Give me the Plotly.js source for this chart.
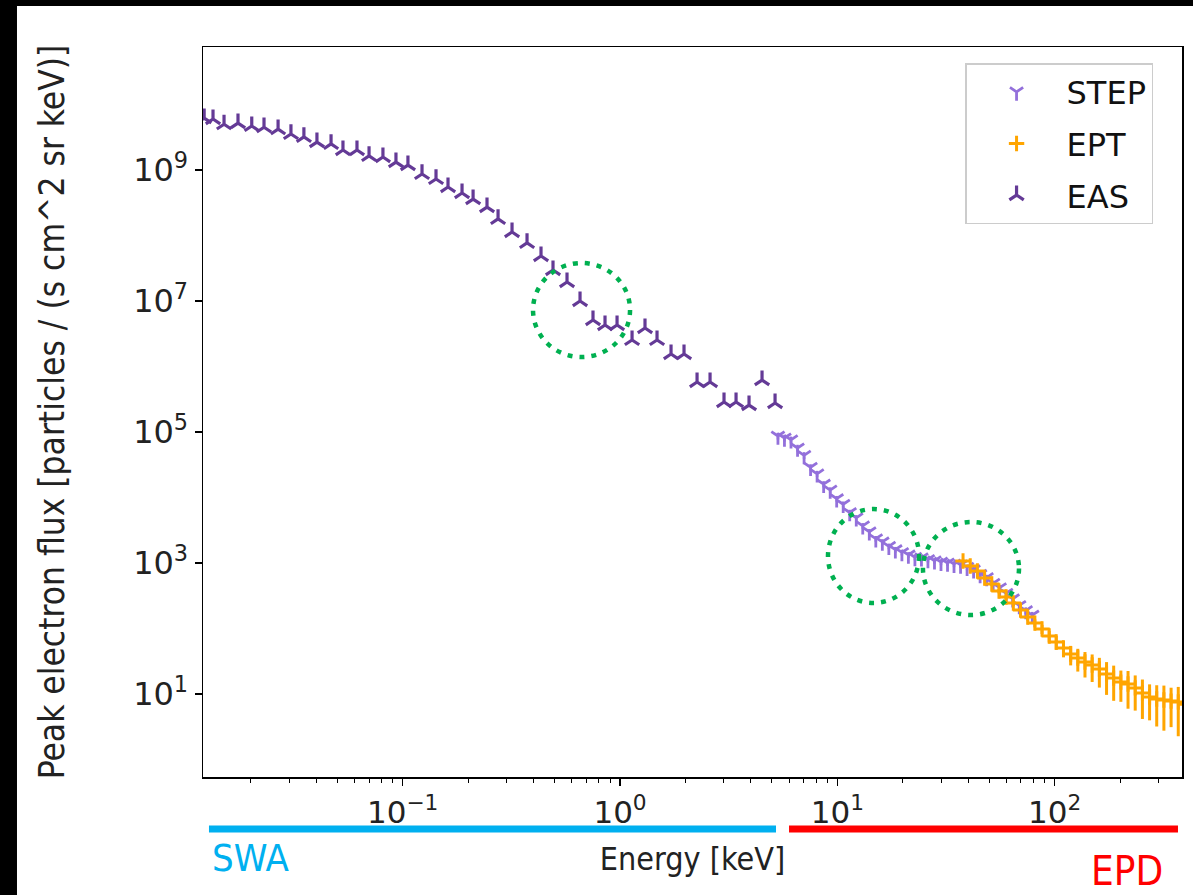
<!DOCTYPE html>
<html>
<head>
<meta charset="utf-8">
<script src="https://cdn.plot.ly/plotly-3.0.1.min.js"></script>
<style>
  html, body { margin: 0; padding: 0; background: #ffffff; }
  #chart { width: 1193px; height: 895px; }
</style>
</head>
<body>
<div id="chart"></div>
<script>
// ---- Data ----
// EAS (SWA) : energy [keV] and peak flux
const easEnergy = [0.0122,0.0134,0.01506,0.01746,0.0202,0.0230,0.0267,0.0306,0.0351,0.0403,0.0468,0.0531,0.0616,0.070,0.0811,0.0931,0.1057,0.1227,0.1423,0.1616,0.1875,0.2108,0.2443,0.2746,0.3185,0.3733,0.4329,0.4916,0.5703,0.6546,0.751,0.853,0.969,1.136,1.303,1.480,1.717,1.970,2.262,2.596,3.010,3.419,3.923,4.503,5.169];
const easFlux = [6.2e9,6.0e9,5.0e9,5.2e9,4.7e9,4.5e9,4.2e9,3.55e9,3.2e9,2.67e9,2.5e9,2.02e9,2.02e9,1.64e9,1.58e9,1.32e9,1.19e9,8.7e8,7.3e8,5.5e8,4.45e8,3.6e8,2.72e8,1.79e8,1.13e8,7.7e7,4.86e7,2.97e7,1.95e7,1.0e7,5.13e6,4.3e6,4.3e6,2.54e6,3.87e6,2.54e6,1.55e6,1.55e6,5.8e5,5.8e5,2.87e5,2.87e5,2.58e5,6.2e5,2.77e5];

// STEP (EPD)
const stepEnergy = [5.33,5.71,6.12,6.56,7.03,7.53,8.07,8.65,9.27,9.93,10.64,11.40,12.22,13.09,14.03,15.03,16.11,17.26,18.49,19.82,21.23,22.75,24.38,26.12,27.99,29.99,32.14,34.43,36.90,39.54,42.36,45.39,48.64,52.12,55.85,59.84,64.12,68.71,73.62,78.89];
const stepFlux = [8.7e4,8.1e4,7.6e4,5.7e4,4.4e4,2.9e4,2.3e4,1.6e4,1.3e4,9.6e3,7.9e3,5.9e3,4.9e3,3.7e3,3.0e3,2.35e3,2.1e3,1.8e3,1.6e3,1.45e3,1.33e3,1.22e3,1.2e3,1.13e3,1.08e3,1.03e3,1.0e3,960,935,860,790,670,600,490,420,345,285,225,188,160];
const stepRelErr = [0.12,0.12,0.12,0.12,0.12,0.11,0.11,0.11,0.1,0.1,0.1,0.1,0.1,0.1,0.1,0.1,0.1,0.1,0.1,0.1,0.1,0.1,0.1,0.1,0.1,0.1,0.1,0.1,0.1,0.1,0.1,0.1,0.1,0.1,0.1,0.1,0.1,0.11,0.12,0.12];

// EPT (EPD)
const eptEnergy = [37.88,40.89,44.12,47.61,51.37,55.43,59.81,64.54,69.64,75.14,81.08,87.49,94.39,101.7,109.8,118.5,127.8,137.9,148.8,160.6,173.3,186.9,201.7,217.6,234.8,253.4,273.4,294.9,318.2,343.4,370.5,399.7];
const eptFlux = [1074,900,755,590,478,374,303,245,191,150,121,98.2,76.7,62.2,50.4,40.8,35.5,30.8,27.7,24.1,20.2,17.5,15.2,14.2,12.4,10.4,9.0,8.4,8.1,7.8,7.55,7.0];
const eptRelErr = [0.05,0.05,0.06,0.06,0.07,0.08,0.09,0.10,0.11,0.12,0.14,0.16,0.20,0.24,0.28,0.33,0.38,0.42,0.45,0.48,0.52,0.55,0.50,0.58,0.55,0.60,0.56,0.62,0.66,0.60,0.70,0.72];

// Axis ticks
const xTickVals = [0.1, 1, 10, 100];
const xTickText = ['10<sup>−1</sup>', '10<sup>0</sup>', '10<sup>1</sup>', '10<sup>2</sup>'];
const yTickVals = [1e1, 1e3, 1e5, 1e7, 1e9];
const yTickText = ['10<sup>1</sup>', '10<sup>3</sup>', '10<sup>5</sup>', '10<sup>7</sup>', '10<sup>9</sup>'];

// minor x ticks (2..9 within each decade)
const xMinor = [];
for (let d = -2; d <= 2; d++) {
  for (let m = 2; m <= 9; m++) xMinor.push(m * Math.pow(10, d));
}

const cStep = '#9370DB';
const cEpt = '#FFA500';
const cEas = '#643A96';

const traces = [
  {
    name: 'STEP', x: stepEnergy, y: stepFlux, type: 'scatter', mode: 'markers',
    legendgroup: 'a',
    marker: { symbol: 'y-down', size: 11, color: cStep, line: { color: cStep, width: 2.8 } },
    error_y: { type: 'data', array: stepFlux.map((v, i) => v * stepRelErr[i]), color: cStep, thickness: 2.5, width: 0 }
  },
  {
    name: 'EPT', x: eptEnergy, y: eptFlux, type: 'scatter', mode: 'markers',
    legendgroup: 'b',
    marker: { symbol: 'cross-thin', size: 11, color: cEpt, line: { color: cEpt, width: 3 } },
    error_y: { type: 'data', array: eptFlux.map((v, i) => v * eptRelErr[i]), color: cEpt, thickness: 3, width: 0 }
  },
  {
    name: 'EAS', x: easEnergy, y: easFlux, type: 'scatter', mode: 'markers',
    legendgroup: 'c',
    marker: { symbol: 'y-up', size: 12, color: cEas, line: { color: cEas, width: 3.2 } }
  }
];

const condensed = '"DejaVu Sans Condensed", "Liberation Sans Narrow", "Roboto Condensed", "Liberation Sans", sans-serif';

const layout = {
  width: 1193, height: 895,
  margin: { l: 203, r: 11, t: 47, b: 118, pad: 0 },
  paper_bgcolor: '#ffffff', plot_bgcolor: '#ffffff',
  font: { family: '"DejaVu Sans", sans-serif', color: '#222', size: 26 },
  showlegend: true,
  legend: {
    x: 0.7784, y: 0.978, xanchor: 'left', yanchor: 'top',
    bgcolor: 'rgba(255,255,255,0.9)', bordercolor: '#cccccc', borderwidth: 1.5,
    font: { family: '"DejaVu Sans", sans-serif', size: 32, color: '#111' },
    itemwidth: 90, tracegroupgap: 7, traceorder: 'grouped'
  },
  xaxis: {
    type: 'log',
    range: [-1.919, 2.586],
    tickmode: 'array', tickvals: xTickVals, ticktext: xTickText,
    ticks: 'outside', ticklen: 7, tickwidth: 1.3, tickcolor: '#000',
    minor: { tickmode: 'array', tickvals: xMinor, ticks: 'outside', ticklen: 4, tickwidth: 1, tickcolor: '#000', showgrid: false },
    showgrid: false, zeroline: false,
    showline: true, linecolor: '#000', linewidth: 1.5, mirror: true,
    tickfont: { family: '"DejaVu Sans", sans-serif', size: 31, color: '#222' },
    title: { text: 'Energy [keV]', font: { family: condensed, size: 32, color: '#222' }, standoff: 19 }
  },
  yaxis: {
    type: 'log',
    range: [-0.267, 10.878],
    tickmode: 'array', tickvals: yTickVals, ticktext: yTickText,
    ticks: 'outside', ticklen: 7, tickwidth: 1.3, tickcolor: '#000',
    showgrid: false, zeroline: false,
    showline: true, linecolor: '#000', linewidth: 1.5, mirror: true,
    tickfont: { family: '"DejaVu Sans", sans-serif', size: 32, color: '#222' },
    title: { text: 'Peak electron flux [particles / (s cm^2 sr keV)]', font: { family: condensed, size: 35, color: '#222' }, standoff: 58 }
  },
  shapes: [
    // black frame strips of the picture
    { type: 'rect', xref: 'paper', yref: 'paper', x0: -0.22, x1: -0.19, y0: -0.2, y1: 1.08, fillcolor: '#000', line: { width: 0 } },
    { type: 'rect', xref: 'paper', yref: 'paper', x0: -0.22, x1: 1.02, y0: 1.0562, y1: 1.08, fillcolor: '#000', line: { width: 0 } },
    // green dotted circles
    { type: 'circle', xref: 'paper', yref: 'paper', x0: 0.3371, x1: 0.4362, y0: 0.5753, y1: 0.7041, line: { color: '#00B050', width: 4.5, dash: '5px,7px' } },
    { type: 'circle', xref: 'paper', yref: 'paper', x0: 0.6384, x1: 0.7314, y0: 0.2384, y1: 0.3671, line: { color: '#00B050', width: 4.5, dash: '5px,7px' } },
    { type: 'circle', xref: 'paper', yref: 'paper', x0: 0.7354, x1: 0.8335, y0: 0.2219, y1: 0.3493, line: { color: '#00B050', width: 4.5, dash: '5px,7px' } },
    // instrument bars below the axis
    { type: 'line', xref: 'paper', yref: 'paper', x0: 0.0061, x1: 0.5853, y0: -0.0712, y1: -0.0712, line: { color: '#00B0F0', width: 7 } },
    { type: 'line', xref: 'paper', yref: 'paper', x0: 0.5986, x1: 0.9959, y0: -0.0712, y1: -0.0712, line: { color: '#FF0000', width: 7 } }
  ],
  annotations: [
    { text: 'SWA', xref: 'paper', yref: 'paper', x: 0.0072, y: -0.111, xanchor: 'left', yanchor: 'middle', showarrow: false,
      font: { family: condensed, size: 38, color: '#00B0F0' } },
    { text: 'EPD', xref: 'paper', yref: 'paper', x: 0.9826, y: -0.1288, xanchor: 'right', yanchor: 'middle', showarrow: false,
      font: { family: condensed, size: 40, color: '#FF0000' } }
  ]
};

Plotly.newPlot('chart', traces, layout, { displayModeBar: false, staticPlot: true });
</script>
</body>
</html>
